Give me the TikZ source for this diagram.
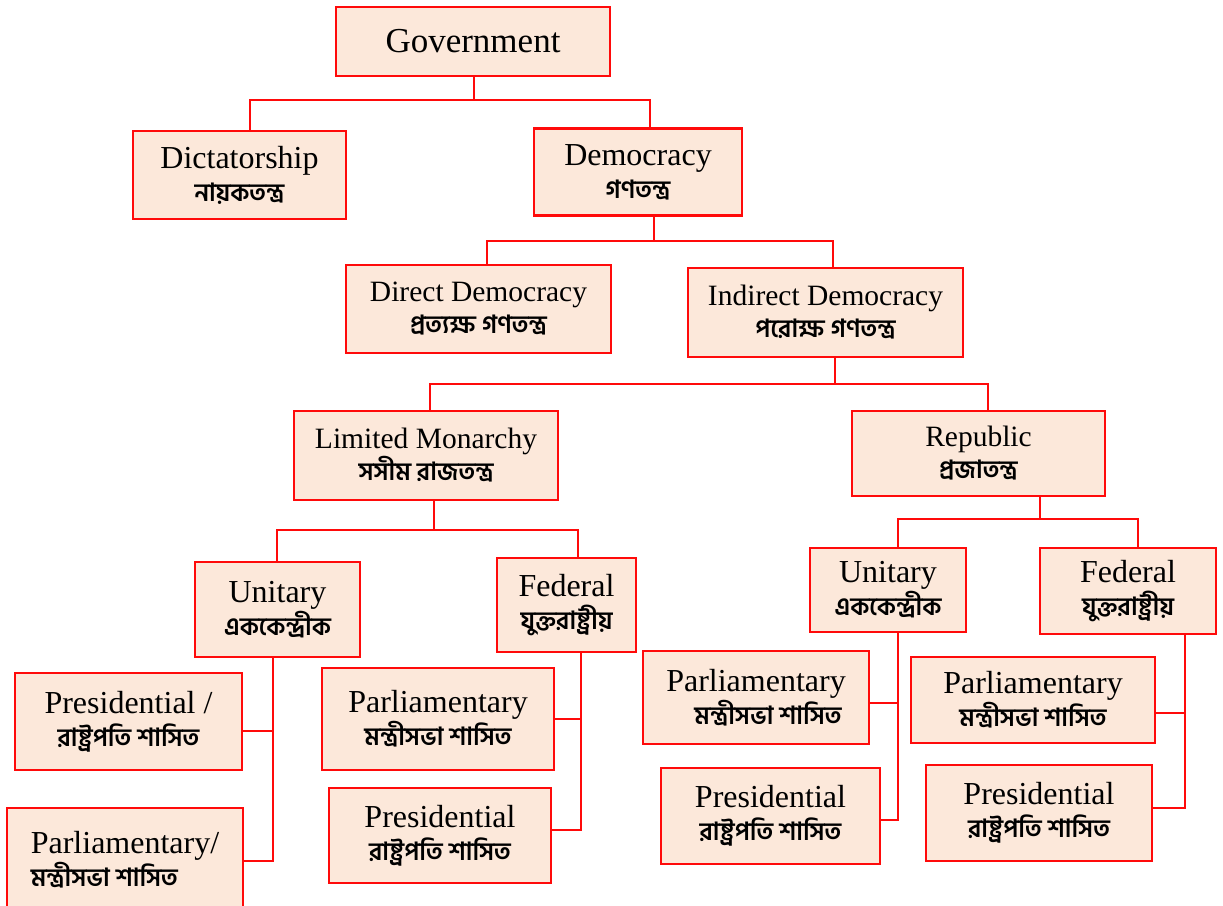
\documentclass[tikz,border=0pt]{standalone}
\usepackage{fontspec}
\setmainfont{Liberation Serif}
\newfontfamily\bn[Script=Bengali]{Hind Siliguri}
\definecolor{peach}{HTML}{FCE8DA}
\definecolor{lred}{HTML}{FF0A0A}
\newcommand\bnl[1]{{\bn\bfseries\fontsize{25}{25}\selectfont #1}}
\begin{document}
\begin{tikzpicture}[x=1pt,y=-1pt,
  box/.style={draw=lred,line width=2.8pt,fill=peach,inner sep=0pt,align=center,
    font=\fontsize{32}{33}\selectfont},
  boxs/.style={box,font=\fontsize{29.5}{32}\selectfont},
  conn/.style={draw=lred,line width=2pt}]
\useasboundingbox (0,0) rectangle (1223,905);
\fill[white] (0,0) rectangle (1223,905);

% level 0-1
\node[box,minimum width=274pt,minimum height=69pt,font=\fontsize{35}{36}\selectfont] (gov) at (473,41.5) {Government};
\node[box,minimum width=213pt,minimum height=88pt] (dict) at (239.5,175) {Dictatorship\\\bnl{নায়কতন্ত্র}};
\node[box,minimum width=208pt,minimum height=87pt] (dem) at (638,172) {Democracy\\\bnl{গণতন্ত্র}};
% level 2
\node[boxs,minimum width=265pt,minimum height=88pt] (dir) at (478.5,309) {Direct Democracy\\\bnl{প্রত্যক্ষ গণতন্ত্র}};
\node[boxs,minimum width=275pt,minimum height=89pt] (ind) at (825.5,312.5) {Indirect Democracy\\\bnl{পরোক্ষ গণতন্ত্র}};
% level 3
\node[boxs,minimum width=264pt,minimum height=89pt] (lim) at (426,455.5) {Limited Monarchy\\\bnl{সসীম রাজতন্ত্র}};
\node[boxs,minimum width=253pt,minimum height=85pt] (rep) at (978.5,453.5) {Republic\\\bnl{প্রজাতন্ত্র}};
% level 4
\node[box,minimum width=165pt,minimum height=95pt] (uniL) at (277.5,609.5) {Unitary\\\bnl{এককেন্দ্রীক}};
\node[box,minimum width=139pt,minimum height=94pt] (fedL) at (566.5,605) {Federal\\\bnl{যুক্তরাষ্ট্রীয়}};
\node[box,minimum width=156pt,minimum height=84pt] (uniR) at (888,590) {Unitary\\\bnl{এককেন্দ্রীক}};
\node[box,minimum width=176pt,minimum height=86pt] (fedR) at (1128,591) {Federal\\\bnl{যুক্তরাষ্ট্রীয়}};
% level 5
\node[box,minimum width=227pt,minimum height=97pt] (presL) at (128.5,721.5) {Presidential /\\\bnl{রাষ্ট্রপতি শাসিত}};
\node[box,minimum width=236pt,minimum height=104pt,align=left] (parlL) at (125,860) {Parliamentary/\\\bnl{মন্ত্রীসভা শাসিত}};
\node[box,minimum width=232pt,minimum height=102pt] (parlM) at (438,719) {Parliamentary\\\bnl{মন্ত্রীসভা শাসিত}};
\node[box,minimum width=222pt,minimum height=95pt] (presM) at (440,835.5) {Presidential\\\bnl{রাষ্ট্রপতি শাসিত}};
\node[box,minimum width=226pt,minimum height=93pt] (parlR) at (756,697.5) {Parliamentary\\\bnl{\hspace*{24pt}মন্ত্রীসভা শাসিত}};
\node[box,minimum width=219pt,minimum height=96pt] (presR) at (770.5,816) {Presidential\\\bnl{রাষ্ট্রপতি শাসিত}};
\node[box,minimum width=244pt,minimum height=86pt] (parlRR) at (1033,700) {Parliamentary\\\bnl{মন্ত্রীসভা শাসিত}};
\node[box,minimum width=226pt,minimum height=96pt] (presRR) at (1039,813) {Presidential\\\bnl{রাষ্ট্রপতি শাসিত}};

% connectors: trees
\coordinate (a0) at (474,100); \coordinate (a1) at (250,100); \coordinate (a2) at (650,100);
\draw[conn] (a0 |- gov.south) -- (a0);
\draw[conn] (a1 |- dict.north) -- (a1) -- (a2) -- (a2 |- dem.north);

\coordinate (b0) at (654,241); \coordinate (b1) at (487,241); \coordinate (b2) at (833,241);
\draw[conn] (b0 |- dem.south) -- (b0);
\draw[conn] (b1 |- dir.north) -- (b1) -- (b2) -- (b2 |- ind.north);

\coordinate (c0) at (835,384); \coordinate (c1) at (430,384); \coordinate (c2) at (988,384);
\draw[conn] (c0 |- ind.south) -- (c0);
\draw[conn] (c1 |- lim.north) -- (c1) -- (c2) -- (c2 |- rep.north);

\coordinate (d0) at (434,530); \coordinate (d1) at (277,530); \coordinate (d2) at (578,530);
\draw[conn] (d0 |- lim.south) -- (d0);
\draw[conn] (d1 |- uniL.north) -- (d1) -- (d2) -- (d2 |- fedL.north);

\coordinate (e0) at (1040,519); \coordinate (e1) at (898,519); \coordinate (e2) at (1138,519);
\draw[conn] (e0 |- rep.south) -- (e0);
\draw[conn] (e1 |- uniR.north) -- (e1) -- (e2) -- (e2 |- fedR.north);

% spines
\coordinate (f1) at (273,731); \coordinate (f2) at (273,861);
\draw[conn] (f1 |- uniL.south) -- (f2) -- (f2 -| parlL.east);
\draw[conn] (f1) -- (f1 -| presL.east);

\coordinate (g1) at (581,719); \coordinate (g2) at (581,830);
\draw[conn] (g1 |- fedL.south) -- (g2) -- (g2 -| presM.east);
\draw[conn] (g1) -- (g1 -| parlM.east);

\coordinate (h1) at (898,703); \coordinate (h2) at (898,820);
\draw[conn] (h1 |- uniR.south) -- (h2) -- (h2 -| presR.east);
\draw[conn] (h1) -- (h1 -| parlR.east);

\coordinate (k1) at (1185,713); \coordinate (k2) at (1185,808);
\draw[conn] (k1 |- fedR.south) -- (k2) -- (k2 -| presRR.east);
\draw[conn] (k1) -- (k1 -| parlRR.east);
\end{tikzpicture}
\end{document}
